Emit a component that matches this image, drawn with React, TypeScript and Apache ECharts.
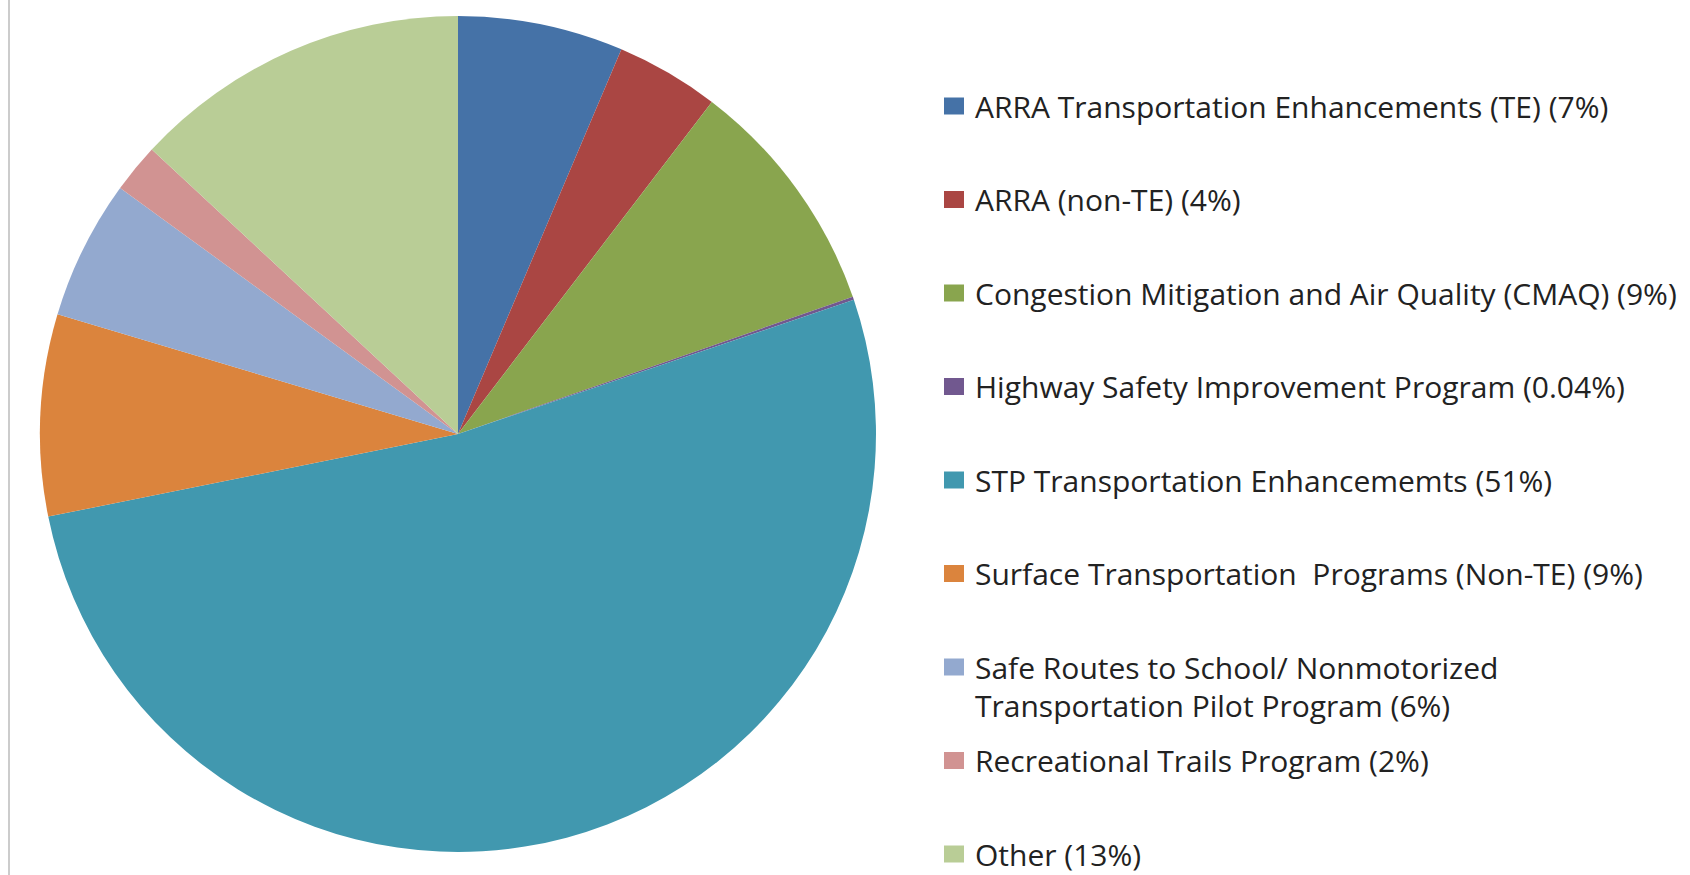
import React, { useEffect, useRef } from 'react';
import * as echarts from 'echarts';

// Categories (legend labels as printed in the source)
const categories: string[] = [
  'ARRA Transportation Enhancements (TE) (7%)',
  'ARRA (non-TE) (4%)',
  'Congestion Mitigation and Air Quality (CMAQ) (9%)',
  'Highway Safety Improvement Program (0.04%)',
  'STP Transportation Enhancememts (51%)',
  'Surface Transportation  Programs (Non-TE) (9%)',
  'Safe Routes to School/ Nonmotorized\nTransportation Pilot Program (6%)',
  'Recreational Trails Program (2%)',
  'Other (13%)',
];

// Slice sizes (percent of total)
const shares: number[] = [6.4, 4.0, 9.3, 0.12, 52.1, 7.8, 5.4, 1.9, 13.1];

const colors: string[] = [
  '#4572A7',
  '#AA4643',
  '#89A54E',
  '#71588F',
  '#4198AF',
  '#DB843D',
  '#93A9CF',
  '#D19392',
  '#B9CD96',
];

export default function App() {
  const ref = useRef<HTMLDivElement>(null);

  useEffect(() => {
    if (!ref.current) return;
    const chart = echarts.init(ref.current, undefined, { renderer: 'svg' });

    const legendFirstY = 106;
    const legendStep = 93.5;

    const legends = categories.map((name, i) => {
      const multi = name.includes('\n');
      const lineH = multi ? 38 : 30;
      const lines = multi ? 3 : 1;
      const cy = legendFirstY + legendStep * i;
      return {
        show: true,
        data: [name],
        orient: 'vertical',
        left: 944,
        top: cy - (lines * lineH) / 2,
        padding: 0,
        itemWidth: 20,
        itemHeight: 17,
        icon: 'rect',
        selectedMode: false,
        formatter: (n: string) => (n.includes('\n') ? '\n' + n : n),
        textStyle: {
          fontFamily: '"Open Sans", sans-serif',
          fontSize: 30,
          lineHeight: lineH,
          color: '#222222',
          padding: [0, 0, 0, 6],
        },
      };
    });

    chart.setOption({
      animation: false,
      backgroundColor: '#ffffff',
      color: colors,
      legend: legends,
      graphic: [
        {
          type: 'line',
          shape: { x1: 9, y1: 0, x2: 9, y2: 875 },
          style: { stroke: '#cccccc', lineWidth: 2 },
        },
      ],
      series: [
        {
          type: 'pie',
          center: [458, 434],
          radius: 418,
          startAngle: 90,
          clockwise: true,
          label: { show: false },
          labelLine: { show: false },
          emphasis: { disabled: true },
          itemStyle: { borderWidth: 0 },
          data: categories.map((name, i) => ({ name, value: shares[i] })),
        },
      ],
    });

    return () => {
      chart.dispose();
    };
  }, []);

  return (
    <div
      ref={ref}
      style={{ position: 'absolute', left: 0, top: 0, width: 1690, height: 875 }}
    />
  );
}
